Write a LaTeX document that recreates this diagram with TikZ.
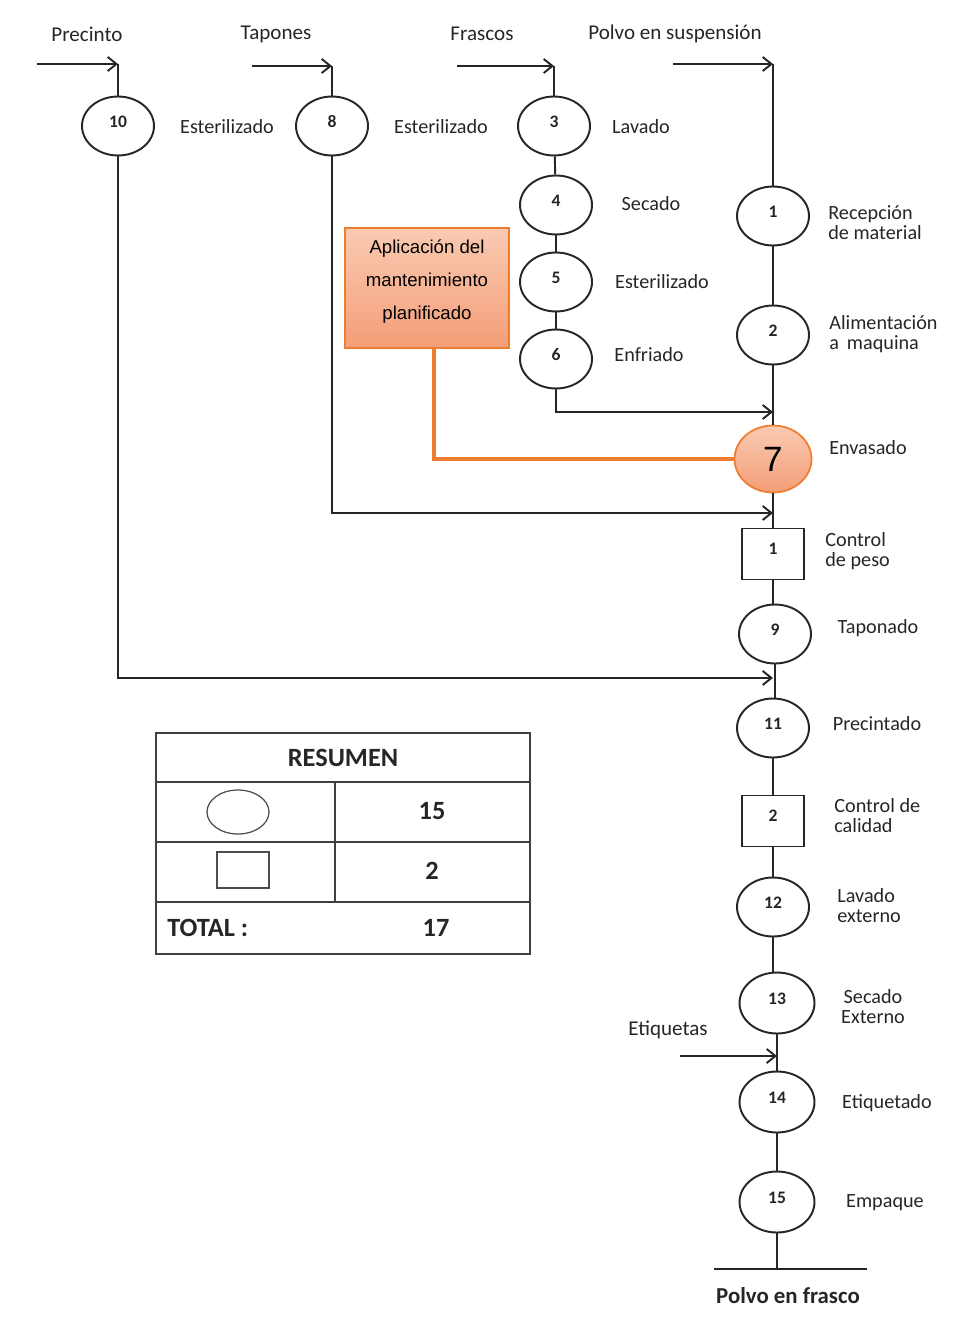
\documentclass[tikz,border=0pt]{standalone}
\usepackage{fontspec}
\setmainfont{Carlito}
\newfontfamily\arialfont{Liberation Sans}
\usetikzlibrary{shapes.geometric,arrows.meta}
\definecolor{orangeline}{HTML}{ED7D31}
\definecolor{salmonlight}{HTML}{F9CAB2}
\definecolor{salmondark}{HTML}{F49E78}
\definecolor{ink}{HTML}{262626}
\begin{document}
\begin{tikzpicture}[x=0.02cm,y=-0.02cm,
  flow/.style={line width=1.1pt, draw=ink},
  arr/.style={flow, -{Straight Barb[length=5pt,width=8pt]}},
  numfont/.style={font=\fontsize{10}{10}\selectfont\bfseries},
  proc/.style={ellipse, draw=ink, line width=1.1pt, fill=white,
    minimum width=1.44cm, minimum height=1.18cm, inner sep=0pt,
    numfont, text=ink, text depth=5pt},
  procbig/.style={proc, minimum width=1.5cm, minimum height=1.22cm},
  insp/.style={rectangle, draw=ink, line width=1.1pt, fill=white,
    minimum width=1.24cm, minimum height=1.02cm, inner sep=0pt,
    numfont, text=ink, text depth=6pt},
  lbl/.style={font=\fontsize{11.5}{11.4}\selectfont, text=ink, inner sep=0pt},
  toplbl/.style={font=\fontsize{12}{12}\selectfont, text=ink, inner sep=0pt},
  tbl/.style={line width=0.8pt, draw=black!75},
  tbltext/.style={font=\fontsize{15}{15}\selectfont\bfseries, text=ink, inner sep=0pt},
]
\useasboundingbox (0,0) rectangle (962,1321);

% ---- raw material inputs
\node[toplbl] (tPrec) at (87,34) {Precinto};
\node[toplbl] (tTap)  at (276,34) {Tapones};
\node[toplbl] (tFra)  at (482,34) {Frascos};
\node[toplbl] (tPol)  at (675,34) {Polvo en suspensión};

\coordinate (s10) at (37,64);  \coordinate (k10) at (118,64);
\coordinate (s8)  at (252,66); \coordinate (k8)  at (332,66);
\coordinate (s3)  at (457,66); \coordinate (k3)  at (554,66);
\coordinate (sp)  at (673,64); \coordinate (kp)  at (773,64);

% ---- side branches
\node[proc] (c10) at (118,126) {10};
\node[lbl]  at (227,127) {Esterilizado};
\node[proc] (c8)  at (332,126) {8};
\node[lbl]  at (441,127) {Esterilizado};
\node[proc] (c3)  at (554,126) {3};
\node[lbl]  at (641,127) {Lavado};
\node[proc] (c4)  at (556,205) {4};
\node[lbl]  at (651,204) {Secado};
\node[proc] (c5)  at (556,282) {5};
\node[lbl]  at (662,282) {Esterilizado};
\node[proc] (c6)  at (556,359) {6};
\node[lbl]  at (649,355) {Enfriado};

% ---- main line
\node[proc] (c1)  at (773,216) {1};
\node[lbl, anchor=west, align=left] at (828,223) {Recepción\\de material};
\node[proc] (c2)  at (773,335) {2};
\node[lbl, anchor=west, align=left] at (829,334) {Alimentación\\a\, maquina};

\node[ellipse, draw=orangeline, line width=1pt, top color=salmonlight,
  bottom color=salmondark, minimum width=1.54cm, minimum height=1.34cm,
  inner sep=0pt, font=\arialfont\fontsize{20}{20}\selectfont] (c7) at (773,459) {7};
\node[lbl] at (868,448) {Envasado};

\node[insp] (q1) at (773,554) {1};
\node[lbl, anchor=west, align=left] at (825,551) {Control\\de peso};
\node[proc] (c9) at (775,634) {9};
\node[lbl] at (878,628) {Taponado};
\node[proc] (c11) at (773,728) {11};
\node[lbl] at (877,724) {Precintado};
\node[insp] (q2) at (773,821) {2};
\node[lbl, anchor=west, align=left] at (834,816) {Control de\\calidad};
\node[proc] (c12) at (773,907) {12};
\node[lbl, anchor=west, align=left] at (837,906) {Lavado\\externo};
\node[procbig] (c13) at (777,1003) {13};
\node[lbl, align=center] at (873,1007) {Secado\\Externo};
\node[procbig] (c14) at (777,1102) {14};
\node[lbl] at (887,1103) {Etiquetado};
\node[procbig] (c15) at (777,1202) {15};
\node[lbl] at (885,1203) {Empaque};

\node[toplbl] (tEti) at (668,1030) {Etiquetas};
\coordinate (se) at (680,1056); \coordinate (je) at (777,1056);

\coordinate (bot) at (777,1269);
\coordinate (barL) at (714,1269); \coordinate (barR) at (867,1269);
\node[font=\fontsize{13}{13}\selectfont\bfseries, text=ink] (out) at (788,1296) {Polvo en frasco};

% ---- maintenance box
\node[rectangle, draw=orangeline, line width=1pt, top color=salmonlight,
  bottom color=salmondark, minimum width=3.28cm, minimum height=2.4cm,
  align=center, text depth=10pt, font=\arialfont\fontsize{10.6}{18.8}\selectfont]
  (mant) at (427,288) {Aplicación del\\mantenimiento\\planificado};

% ---- join points on the main line
\coordinate (j6)  at (773,412);
\coordinate (j8)  at (773,513);
\coordinate (j10) at (773,678);

% ---- connectors
\draw[arr] (s10) -- (k10);
\draw[arr] (s8) -- (k8);
\draw[arr] (s3) -- (k3);
\draw[arr] (sp) -- (kp);
\draw[flow] (k10) -- (c10);
\draw[flow] (k8) -- (c8);
\draw[flow] (k3) -- (c3);
\draw[flow] (c3) -- (c4);
\draw[flow] (c4) -- (c5);
\draw[flow] (c5) -- (c6);
\draw[flow] (kp) -- (c1);
\draw[flow] (c1) -- (c2);
\draw[flow] (c2) -- (c7);
\draw[flow] (c7) -- (q1);
\draw[flow] (q1.south) -- (q1.south |- c9.north);
\draw[flow] (c9.south) -- (c9.south |- c11.north);
\draw[flow] (c11) -- (q2);
\draw[flow] (q2) -- (c12);
\draw[flow] (c12.south) -- (c12.south |- c13.north);
\draw[flow] (c13) -- (c14);
\draw[flow] (c14) -- (c15);
\draw[flow] (c15) -- (bot);
\draw[flow] (barL) -- (barR);

\draw[arr] (c6) |- (j6);
\draw[arr] (c8) |- (j8);
\draw[arr] (c10) |- (j10);
\draw[arr] (se) -- (je);

\draw[orangeline, line width=2pt] ([xshift=0.14cm]mant.south) |- (c7.west);

% ---- summary table
\draw[tbl] (156,733) rectangle (530,954);
\draw[tbl] (156,782) -- (530,782);
\draw[tbl] (156,842) -- (530,842);
\draw[tbl] (156,902) -- (530,902);
\draw[tbl] (335,782) -- (335,902);
\node[ellipse, draw=black!70, line width=0.7pt, minimum width=1.24cm,
  minimum height=0.88cm] (symop) at (238,812) {};
\node[rectangle, draw=black!70, line width=0.7pt, minimum width=1.04cm,
  minimum height=0.72cm] (symin) at (243,870) {};
\node[tbltext] (rtit) at (343,758) {RESUMEN};
\node[tbltext] (rop) at (432,811) {15};
\node[tbltext] (rin) at (432,871) {2};
\node[tbltext, anchor=west] (rtot) at (167,928) {TOTAL :};
\node[tbltext] (rsum) at (436,928) {17};
\end{tikzpicture}
\end{document}
